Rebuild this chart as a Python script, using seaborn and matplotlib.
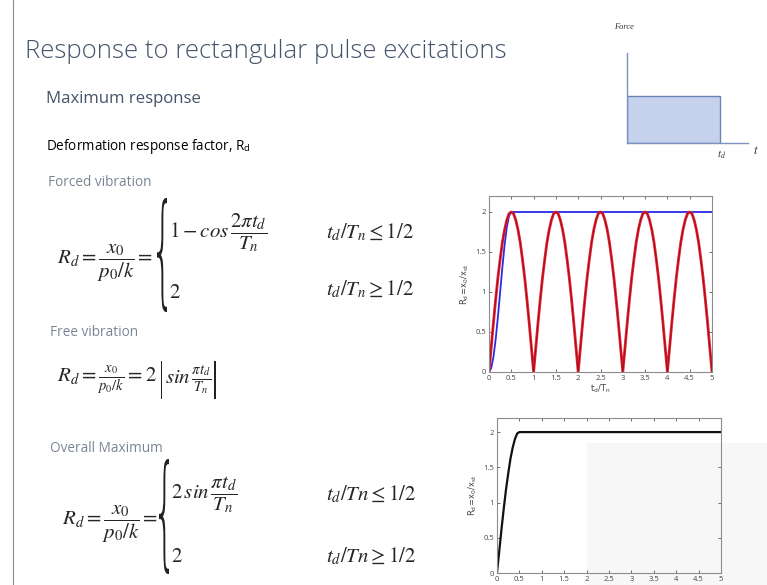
import numpy as np
import pandas as pd
import matplotlib
matplotlib.use("Agg")
import matplotlib.pyplot as plt
import seaborn as sns
from matplotlib.textpath import TextPath
from matplotlib.patches import PathPatch
from matplotlib.font_manager import FontProperties
from matplotlib.transforms import Affine2D, IdentityTransform

# ---------------- data ----------------
td_free = [0.00, 0.05, 0.10, 0.15, 0.20, 0.25, 0.30, 0.35, 0.40, 0.45,
           0.50, 0.55, 0.60, 0.65, 0.70, 0.75, 0.80, 0.85, 0.90, 0.95,
           1.00, 1.05, 1.10, 1.15, 1.20, 1.25, 1.30, 1.35, 1.40, 1.45,
           1.50, 1.55, 1.60, 1.65, 1.70, 1.75, 1.80, 1.85, 1.90, 1.95,
           2.00, 2.05, 2.10, 2.15, 2.20, 2.25, 2.30, 2.35, 2.40, 2.45,
           2.50, 2.55, 2.60, 2.65, 2.70, 2.75, 2.80, 2.85, 2.90, 2.95,
           3.00, 3.05, 3.10, 3.15, 3.20, 3.25, 3.30, 3.35, 3.40, 3.45,
           3.50, 3.55, 3.60, 3.65, 3.70, 3.75, 3.80, 3.85, 3.90, 3.95,
           4.00, 4.05, 4.10, 4.15, 4.20, 4.25, 4.30, 4.35, 4.40, 4.45,
           4.50, 4.55, 4.60, 4.65, 4.70, 4.75, 4.80, 4.85, 4.90, 4.95,
           5.00]
rd_free = [0.00, 0.31, 0.62, 0.91, 1.18, 1.41, 1.62, 1.78, 1.90, 1.98,
           2.00, 1.98, 1.90, 1.78, 1.62, 1.41, 1.18, 0.91, 0.62, 0.31,
           0.00, 0.31, 0.62, 0.91, 1.18, 1.41, 1.62, 1.78, 1.90, 1.98,
           2.00, 1.98, 1.90, 1.78, 1.62, 1.41, 1.18, 0.91, 0.62, 0.31,
           0.00, 0.31, 0.62, 0.91, 1.18, 1.41, 1.62, 1.78, 1.90, 1.98,
           2.00, 1.98, 1.90, 1.78, 1.62, 1.41, 1.18, 0.91, 0.62, 0.31,
           0.00, 0.31, 0.62, 0.91, 1.18, 1.41, 1.62, 1.78, 1.90, 1.98,
           2.00, 1.98, 1.90, 1.78, 1.62, 1.41, 1.18, 0.91, 0.62, 0.31,
           0.00, 0.31, 0.62, 0.91, 1.18, 1.41, 1.62, 1.78, 1.90, 1.98,
           2.00, 1.98, 1.90, 1.78, 1.62, 1.41, 1.18, 0.91, 0.62, 0.31,
           0.00]

td_forced = [0.00, 0.05, 0.10, 0.15, 0.20, 0.25, 0.30, 0.35, 0.40, 0.45, 0.50, 5.00]
rd_forced = [0.00, 0.05, 0.19, 0.41, 0.69, 1.00, 1.31, 1.59, 1.81, 1.95, 2.00, 2.00]

td_overall = [0.00, 0.05, 0.10, 0.15, 0.20, 0.25, 0.30, 0.35, 0.40, 0.45, 0.50, 5.00]
rd_overall = [0.00, 0.31, 0.62, 0.91, 1.18, 1.41, 1.62, 1.78, 1.90, 1.98, 2.00, 2.00]

x_ticks = [0, 0.5, 1, 1.5, 2, 2.5, 3, 3.5, 4, 4.5, 5]
x_ticklabels = ["0", "0.5", "1", "1.5", "2", "2.5", "3", "3.5", "4", "4.5", "5"]
y_ticks = [0, 0.5, 1, 1.5, 2]
y_ticklabels = ["0", "0.5", "1", "1.5", "2"]

pulse_td = [1.0]
pulse_force = [1.0]

# ---------------- figure ----------------
sns.set_theme(style="white")
plt.rcParams["font.family"] = ["Open Sans", "DejaVu Sans"]
plt.rcParams["mathtext.fontset"] = "stix"

W, H = 767, 585
fig = plt.figure(figsize=(W / 100, H / 100), dpi=100)
fig.patch.set_facecolor("white")
renderer = fig.canvas.get_renderer()


def fx(x):
    return x / W


def fy(y):
    return 1 - y / H


def ax_rect(left, top, right, bottom):
    return [fx(left), fy(bottom), (right - left) / W, (bottom - top) / H]


def txt(x, y, s, **kw):
    kw.setdefault("ha", "left")
    kw.setdefault("va", "center")
    return fig.text(fx(x), fy(y), s, **kw)


def glyph(ch, left, top, right, bottom, color="#222222"):
    tp = TextPath((0, 0), ch, size=60,
                  prop=FontProperties(family="DejaVu Sans", weight=200))
    ext = tp.get_extents()
    sx = (right - left) / ext.width
    sy = (bottom - top) / ext.height
    tr = (Affine2D().translate(-ext.x0, -ext.y0).scale(sx, sy)
          .translate(left, H - bottom))
    patch = PathPatch(tr.transform_path(tp), transform=IdentityTransform(),
                      facecolor=color, edgecolor="none")
    fig.add_artist(patch)


# faint overlay + slide left rule
fig.add_artist(plt.Rectangle((fx(587), 0), 1 - fx(587), fy(443), transform=fig.transFigure,
                             facecolor="#f7f7f7", edgecolor="none", zorder=0))
fig.add_artist(plt.Line2D([fx(12.5), fx(12.5)], [0, 1], transform=fig.transFigure,
                          color="#8a8a8a", lw=0.8))

title_c = "#44546a"
grey_c = "#7a8594"

txt(25, 52, "Response to rectangular pulse excitations", fontsize=18.5, color=title_c,
    fontweight="light")
txt(46, 99, "Maximum response", fontsize=12.1, color=title_c)
txt(46, 146, "Deformation response factor, R$_\\mathregular{d}$", fontsize=9.75, color="black")
txt(48, 182, "Forced vibration", fontsize=9.8, color=grey_c)
txt(50, 332, "Free vibration", fontsize=9.8, color=grey_c)
txt(50, 448, "Overall Maximum", fontsize=9.8, color=grey_c)

eq_fs = 15

# forced vibration
txt(57, 263, r"$R_d = \dfrac{x_0}{p_0/k} = $", fontsize=eq_fs)
glyph("{", 157, 198, 167, 312)
txt(169, 233, r"$1 - cos\,\dfrac{2\pi t_d}{T_n}$", fontsize=eq_fs)
txt(169, 292, r"$2$", fontsize=eq_fs)
txt(326, 233, r"$t_d/T_n \leq \mathit{1/2}$", fontsize=eq_fs)
txt(326, 290, r"$t_d/T_n \geq \mathit{1/2}$", fontsize=eq_fs)

# free vibration
t1 = txt(57, 380, r"$R_d = \frac{x_0}{p_0/k} = 2$", fontsize=eq_fs)
x_end = t1.get_window_extent(renderer).x1
glyph("|", x_end + 4, 361, x_end + 5.5, 399)
t2 = txt(x_end + 8, 380, r"$sin\,\frac{\pi t_d}{T_n}$", fontsize=eq_fs)
x_end2 = t2.get_window_extent(renderer).x1
glyph("|", x_end2 + 3, 361, x_end2 + 4.5, 399)

# overall maximum
txt(62, 524, r"$R_d = \dfrac{x_0}{p_0/k} = $", fontsize=eq_fs)
glyph("{", 159, 459, 169, 574)
txt(171, 495, r"$2\,sin\,\dfrac{\pi t_d}{T_n}$", fontsize=eq_fs)
txt(171, 557, r"$2$", fontsize=eq_fs)
txt(326, 495, r"$t_d/Tn \leq \mathit{1/2}$", fontsize=eq_fs)
txt(326, 557, r"$t_d/Tn \geq \mathit{1/2}$", fontsize=eq_fs)

# ---------------- force pulse sketch ----------------
axf = fig.add_axes(ax_rect(627, 53, 748, 143))
axf.set_facecolor("none")
axf.bar(x=[0.0], height=pulse_force, width=pulse_td, align="edge",
        color="#c6d2ec", edgecolor="#6d82b5", linewidth=1.0)
axf.set_xlim(0, 1.3)
axf.set_ylim(0, 1.9)
for s in ["top", "right"]:
    axf.spines[s].set_visible(False)
for s in ["left", "bottom"]:
    axf.spines[s].set_color("#7f93c0")
    axf.spines[s].set_linewidth(1.0)
axf.set_xticks([])
axf.set_yticks([])
txt(614, 27, "Force", fontsize=6, family="Liberation Serif", style="italic", color="#333333")
txt(717, 155, r"$t_d$", fontsize=8, color="#333333")
txt(753, 150, r"$t$", fontsize=9, color="#333333")


# ---------------- matlab-like plots ----------------
def style_matlab(ax, ylab, xlab=None):
    ax.set_xlim(0, 5)
    ax.set_ylim(0, 2.2)
    ax.set_xticks(x_ticks)
    ax.set_xticklabels(x_ticklabels)
    ax.set_yticks(y_ticks)
    ax.set_yticklabels(y_ticklabels)
    ax.tick_params(direction="in", length=2.5, width=0.6, colors="#555555",
                   labelsize=5.5, pad=2, top=True, right=True, bottom=True, left=True,
                   labelcolor="#444444")
    for s in ax.spines.values():
        s.set_visible(True)
        s.set_color("#8c8c8c")
        s.set_linewidth(0.8)
    ax.set_ylabel(ylab, fontsize=6, color="#444444", labelpad=3,
                  family="DejaVu Sans")
    if xlab:
        ax.set_xlabel(xlab, fontsize=6, color="#444444", labelpad=1, family="DejaVu Sans")
    else:
        ax.set_xlabel("")
    ax.set_facecolor("none")


ax1 = fig.add_axes(ax_rect(489, 196, 712, 372))
df_free = pd.DataFrame({"td": td_free, "rd": rd_free})
df_forced = pd.DataFrame({"td": td_forced, "rd": rd_forced})
sns.lineplot(data=df_forced, x="td", y="rd", ax=ax1, color="#2a2ae6", lw=1.3)
sns.lineplot(data=df_free, x="td", y="rd", ax=ax1, color="#e41f2d", lw=2.0)
sns.lineplot(data=df_free, x="td", y="rd", ax=ax1, color="#8b0a1a", lw=0.5)
style_matlab(ax1, r"R$_\mathregular{d}$=x$_\mathregular{0}$/x$_\mathregular{st}$",
             r"t$_\mathregular{d}$/T$_\mathregular{n}$")

ax2 = fig.add_axes(ax_rect(497, 418, 721, 573))
df_overall = pd.DataFrame({"td": td_overall, "rd": rd_overall})
sns.lineplot(data=df_overall, x="td", y="rd", ax=ax2, color="#111111", lw=1.6)
style_matlab(ax2, r"R$_\mathregular{d}$=x$_\mathregular{0}$/x$_\mathregular{st}$")

fig.savefig("out.png", dpi=100, facecolor="white")
